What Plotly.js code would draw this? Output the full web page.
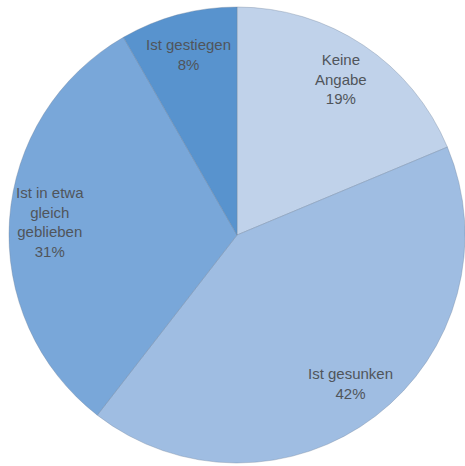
<!DOCTYPE html>
<html>
<head>
<meta charset="utf-8">
<script src="https://cdn.plot.ly/plotly-3.0.1.min.js"></script>
<style>html,body{margin:0;padding:0;background:#fff;}#chart{width:465px;height:466px;}</style>
</head>
<body>
<div id="chart"></div>
<script>
const labels = ["Keine<br>Angabe", "Ist gesunken", "Ist in etwa<br>gleich<br>geblieben", "Ist gestiegen"];
const values = [18.7, 41.8, 31.2, 8.3];
const colors = ["#c0d2ea", "#9fbde2", "#79a7d9", "#5893ce"];

const W = 465, H = 466;
const cx = 237, cy = 235, R = 228;
const domX = [(cx - R) / W, (cx + R) / W];
const domY = [1 - (cy + R) / H, 1 - (cy - R) / H];

const total = values.reduce((a, b) => a + b, 0);
const annotations = [];
let cum = 0;
const textR = 0.82;
values.forEach((v, i) => {
  const mid = (cum + v / 2) / total * 2 * Math.PI;
  cum += v;
  const px = cx + Math.sin(mid) * R * textR;
  const py = cy - Math.cos(mid) * R * textR;
  annotations.push({
    x: px / W, y: 1 - py / H, xref: 'paper', yref: 'paper',
    text: labels[i] + '<br>' + Math.round(v / total * 100) + '%',
    showarrow: false, align: 'center', xanchor: 'center', yanchor: 'middle',
    font: {family: 'Liberation Sans, Arial, sans-serif', size: 15, color: '#50555b'}
  });
});

const data = [{
  type: 'pie',
  labels: labels,
  values: values,
  sort: false,
  direction: 'clockwise',
  rotation: 0,
  textinfo: 'none',
  hoverinfo: 'label+percent',
  marker: {colors: colors, line: {color: 'rgba(110,130,155,0.6)', width: 0.6}},
  domain: {x: domX, y: domY},
  showlegend: false
}];

const layout = {
  width: W, height: H,
  margin: {l: 0, r: 0, t: 0, b: 0},
  paper_bgcolor: '#ffffff',
  showlegend: false,
  annotations: annotations
};

Plotly.newPlot('chart', data, layout, {displayModeBar: false, staticPlot: true});
</script>
</body>
</html>
